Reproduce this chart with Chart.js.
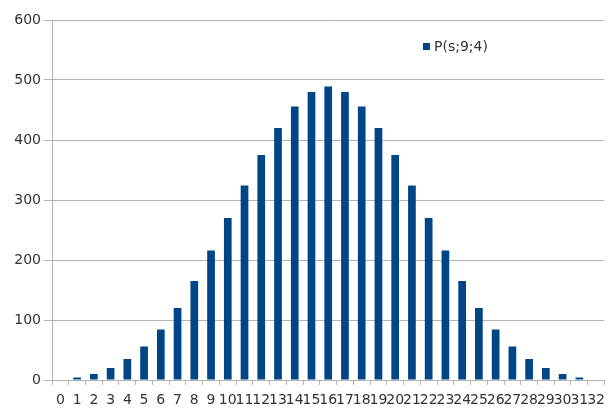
<!DOCTYPE html>
<html>
<head>
<meta charset="utf-8">
<script src="https://cdn.jsdelivr.net/npm/chart.js@4/dist/chart.umd.min.js"></script>
<style>
    html, body { margin: 0; padding: 0; background: #fff; overflow: hidden; }
    #wrap { width: 608px; height: 409px; overflow: hidden; }
    #box { width: 612px; height: 409px; }
</style>
</head>
<body>
<div id="wrap"><div id="box"><canvas id="barChart"></canvas></div></div>
<script>
// 数据
const seriesName = 'P(s;9;4)';
const sums = ['0', '1', '2', '3', '4', '5', '6', '7', '8', '9', '10', '11', '12', '13', '14', '15', '16',
    '17', '18', '19', '20', '21', '22', '23', '24', '25', '26', '27', '28', '29', '30', '31', '32'];
const counts = [1, 4, 10, 20, 35, 56, 84, 120, 165, 216, 270, 324, 375, 420, 456, 480, 489,
    480, 456, 420, 375, 324, 270, 216, 165, 120, 84, 56, 35, 20, 10, 4, 1];
const yTicks = [0, 100, 200, 300, 400, 500, 600];

const barColor = '#004586';
const textColor = '#333333';
const gridColor = '#b3b3b3';

// 图例画在图内右上
const innerLegend = {
    id: 'innerLegend',
    afterDraw(chart) {
        const ctx = chart.ctx;
        const ds = chart.data.datasets[0];
        ctx.save();
        ctx.fillStyle = ds.backgroundColor;
        ctx.fillRect(423, 43, 7, 7);
        ctx.fillStyle = textColor;
        ctx.font = '14px "DejaVu Sans"';
        ctx.textBaseline = 'middle';
        ctx.fillText(ds.label, 434, 47);
        ctx.restore();
    }
};

const ctxBar = document.getElementById('barChart').getContext('2d');
new Chart(ctxBar, {
    type: 'bar',
    data: {
        labels: sums,
        datasets: [{
            label: seriesName,
            data: counts,
            backgroundColor: barColor,
            borderWidth: 0,
            barPercentage: 0.46,
            categoryPercentage: 1
        }]
    },
    options: {
        responsive: true,
        maintainAspectRatio: false,
        animation: false,
        layout: { padding: { top: 20, right: 1, bottom: 0, left: 0 } },
        plugins: {
            legend: { display: false },
            tooltip: { enabled: false }
        },
        scales: {
            x: {
                grid: { display: true, drawOnChartArea: false, color: gridColor, tickLength: 5 },
                border: { color: gridColor },
                ticks: {
                    color: textColor,
                    font: { family: 'DejaVu Sans', size: 14 },
                    autoSkip: false,
                    maxRotation: 0,
                    minRotation: 0,
                    padding: 7
                },
                afterFit(scale) { scale.height = 29; }
            },
            y: {
                min: 0,
                max: 600,
                afterBuildTicks(scale) { scale.ticks = yTicks.map(v => ({ value: v })); },
                grid: { color: gridColor, tickLength: 8 },
                border: { color: gridColor },
                ticks: {
                    color: textColor,
                    font: { family: 'DejaVu Sans', size: 14 },
                    padding: 3
                },
                afterFit(scale) { scale.width = 52; }
            }
        }
    },
    plugins: [innerLegend]
});
</script>
</body>
</html>
